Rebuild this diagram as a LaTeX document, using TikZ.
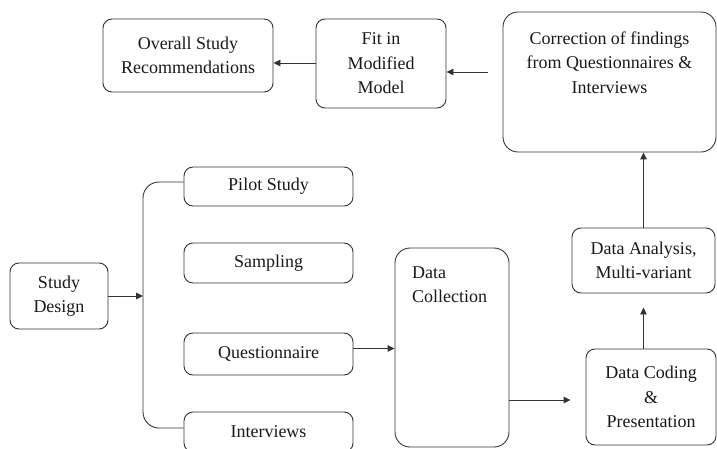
\documentclass[tikz,border=0pt]{standalone}
\usepackage{fontspec}
\setmainfont{Liberation Serif}
\usetikzlibrary{arrows.meta}
\tikzset{
  box/.style={draw=black!80, line width=0.9pt, rounded corners=9pt, inner sep=0pt, align=center, text=black!90},
  bigbox/.style={box, rounded corners=15pt},
  arr/.style={draw=black!80, line width=0.9pt, -{Triangle[length=7pt,width=6.5pt]}},
  conn/.style={draw=black!80, line width=0.9pt},
  txt/.style={inner sep=0pt, text=black!90}
}
\begin{document}
\begin{tikzpicture}[x=1pt,y=-1pt,font=\fontsize{18}{24.5}\selectfont]
\useasboundingbox (0,0) rectangle (717,449);
\clip (0,0) rectangle (717,449);
% top row
\node[box, minimum width=170pt, minimum height=73pt] (overall) at (188,55.5) {Overall Study\\Recommendations};
\node[box, minimum width=130pt, minimum height=89pt] (fit) at (381,63.5) {Fit in\\Modified\\Model};
\node[bigbox, minimum width=213pt, minimum height=140pt] (corr) at (609.5,82) {};
\node[txt, anchor=north, align=center] (corrtext) at (609.5,31.5) {Correction of findings\\from Questionnaires \&\\Interviews};
% left
\node[box, minimum width=98pt, minimum height=66pt] (sd) at (59,296) {Study\\Design};
\node[box, minimum width=169pt, minimum height=39pt] (pilot) at (268.5,186.5) {Pilot Study};
\node[box, minimum width=169pt, minimum height=40pt] (sampling) at (268.5,263) {Sampling};
\node[box, minimum width=169pt, minimum height=42pt] (quest) at (268.5,354) {Questionnaire};
\node[box, minimum width=169pt, minimum height=40pt] (interv) at (268.5,432) {Interviews};
% data collection
\node[bigbox, minimum width=114pt, minimum height=199pt] (dc) at (452,347.5) {};
\node[txt, anchor=north west, align=left] (dctext) at (412,266.5) {Data\\Collection};
% right
\node[box, minimum width=143pt, minimum height=65pt] (ana) at (643.5,260.5) {Data Analysis,\\Multi-variant};
\node[box, minimum width=130pt, minimum height=96pt] (cod) at (651,397) {Data Coding\\\&\\Presentation};
% connectors
\coordinate (br) at (143,296);
\coordinate (cf) at (488,72);
\draw[arr] (sd.east |- br) -- (br);
\draw[conn, rounded corners=16pt] (pilot.west |- 0,182) -- (143,182) -- (143,428) -- (interv.west |- 0,428);
\draw[arr] (quest.east |- 0,348.5) -- (dc.west |- 0,348.5);
\draw[arr, shorten >=15pt] (dc.east |- 0,400) -- (cod.west |- 0,400);
\draw[arr, shorten >=14pt] (ana.north |- cod.north) -- (ana.south);
\draw[arr] (ana.north) -- (ana.north |- corr.south);
\draw[arr] (cf) -- (cf -| fit.east);
\draw[arr] (fit.west |- 0,63) -- (overall.east |- 0,63);
\end{tikzpicture}
\end{document}
